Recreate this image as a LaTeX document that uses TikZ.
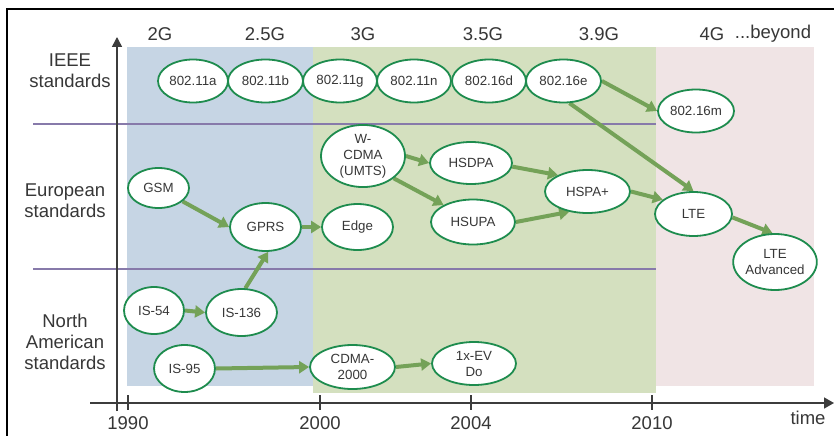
\documentclass[tikz,border=0pt]{standalone}
\usepackage{fontspec}
\setmainfont{Liberation Sans}
\usetikzlibrary{shapes.geometric,arrows.meta}

\definecolor{bandblue}{RGB}{198,213,228}
\definecolor{bandgreen}{RGB}{212,224,191}
\definecolor{bandpink}{RGB}{240,228,229}
\definecolor{ringgreen}{RGB}{30,140,78}
\definecolor{flowgreen}{RGB}{116,162,88}
\definecolor{rowline}{RGB}{135,122,170}
\definecolor{inkgrey}{RGB}{55,55,55}
\definecolor{axisgrey}{RGB}{60,60,60}

\pgfdeclarelayer{bands}
\pgfdeclarelayer{flows}
\pgfsetlayers{bands,flows,main}

\begin{document}
\begin{tikzpicture}[x=1pt,y=-1pt,
  std/.style={ellipse, draw=ringgreen, line width=1.8pt, fill=white,
    inner sep=0pt, text=inkgrey, align=center,
    font=\fontsize{13.3}{16}\selectfont},
  flow/.style={draw=flowgreen, line width=4pt,
    -{Triangle[length=10pt,width=12pt]}},
  biglabel/.style={text=inkgrey, align=center, inner sep=0pt,
    font=\fontsize{18.5}{21}\selectfont},
  axisline/.style={draw=axisgrey, line width=1.5pt},
  tick/.style={draw=axisgrey, line width=1.3pt},
  sep/.style={draw=rowline, line width=1.2pt}
]
\useasboundingbox (0,0) rectangle (834,436);

% generation bands, row separators and axes
\begin{pgfonlayer}{bands}
  \fill[white] (0,0) rectangle (834,436);
  \draw[black, line width=2pt] (834,9) -- (7,9) -- (7,436);
  \fill[bandblue]  (127,47) rectangle (313,386);
  \fill[bandgreen] (313,47) rectangle (656,393);
  \fill[bandpink]  (656,47) rectangle (814,386);
  \draw[sep] (33,124) -- (656,124);
  \draw[sep] (33,269) -- (656,269);
  \coordinate (ybot) at (117,411);
  \coordinate (ytop) at (117,37);
  \coordinate (xleft) at (90,403);
  \coordinate (xright) at (834,403);
  \draw[axisline, -{Triangle[length=10pt,width=10pt]}] (ybot) -- (ytop);
  \draw[axisline, -{Triangle[length=10pt,width=11pt]}] (xleft) -- (xright);
  \foreach \tx in {128,320,471,652} \draw[tick] (\tx,395) -- (\tx,410);
\end{pgfonlayer}

% axis and band labels
\node[biglabel] (y1990) at (128,423) {1990};
\node[biglabel] (y2000) at (320,423) {2000};
\node[biglabel] (y2004) at (471,423) {2004};
\node[biglabel] (y2010) at (652,423) {2010};
\node[biglabel] (tlab) at (808,418) {time};

\node[biglabel] (g2)   at (160,34) {2G};
\node[biglabel] (g25)  at (265,34) {2.5G};
\node[biglabel] (g3)   at (363,34) {3G};
\node[biglabel] (g35)  at (483,34) {3.5G};
\node[biglabel] (g39)  at (599,34) {3.9G};
\node[biglabel] (g4)   at (712,34) {4G};
\node[biglabel] (gbey) at (773,34) {...beyond};

\node[biglabel] (rieee) at (70,71) {IEEE\\standards};
\node[biglabel] (reur)  at (65,201) {European\\standards};
\node[biglabel] (rna)   at (65,342) {North\\American\\standards};

% IEEE standards
\node[std, minimum width=70pt, minimum height=43pt] (a11a) at (193,81) {802.11a};
\node[std, minimum width=75pt, minimum height=43pt] (a11b) at (265.5,81) {802.11b};
\node[std, minimum width=74pt, minimum height=43pt] (a11g) at (340,81) {802.11g};
\node[std, minimum width=74pt, minimum height=43pt] (a11n) at (414,81) {802.11n};
\node[std, minimum width=74pt, minimum height=43pt] (a16d) at (489,81) {802.16d};
\node[std, minimum width=75pt, minimum height=43pt] (a16e) at (563.5,81) {802.16e};
\node[std, minimum width=76pt, minimum height=43pt] (a16m) at (696,111) {802.16m};

% European standards
\node[std, minimum width=61pt, minimum height=40pt] (gsm) at (158.5,188) {GSM};
\node[std, minimum width=71pt, minimum height=48pt] (gprs) at (265.5,227) {GPRS};
\node[std, minimum width=71pt, minimum height=46pt] (edge) at (357.5,227) {Edge};
\node[std, minimum width=84pt, minimum height=54pt] (wcdma) at (363,156) {W-\\CDMA\\(UMTS)};
\node[std, minimum width=82pt, minimum height=42pt] (hsdpa) at (471,163) {HSDPA};
\node[std, minimum width=84pt, minimum height=45pt] (hsupa) at (473,222) {HSUPA};
\node[std, minimum width=85pt, minimum height=43pt] (hspa) at (587.5,191.5) {HSPA+};
\node[std, minimum width=77pt, minimum height=44pt] (lte) at (693.5,214) {LTE};
\node[std, minimum width=80pt, minimum height=56pt] (ltea) at (775,262) {LTE\\Advanced};

% North American standards
\node[std, minimum width=60pt, minimum height=47pt] (is54) at (154,310.5) {IS-54};
\node[std, minimum width=71pt, minimum height=47pt] (is136) at (241.5,312.5) {IS-136};
\node[std, minimum width=61pt, minimum height=47pt] (is95) at (184.5,368.5) {IS-95};
\node[std, minimum width=85pt, minimum height=44pt] (cdma) at (352.5,367) {CDMA-\\2000};
\node[std, minimum width=84pt, minimum height=43pt] (evdo) at (474,363.5) {1x-EV\\Do};

% evolution paths
\begin{pgfonlayer}{flows}
  \draw[flow] (a16e.east) -- (a16m.west);
  \draw[flow] (a16e.-75) -- (lte.north);
  \draw[flow] (wcdma.east) -- (hsdpa.west);
  \draw[flow] (wcdma.-36) -- (hsupa.150);
  \draw[flow] (hsdpa.-5) -- (hspa.151);
  \draw[flow] (hsupa.east) -- (hspa.-132);
  \draw[flow] (hspa.east) -- (lte.155);
  \draw[flow] (lte.-5) -- (ltea.95);
  \draw[flow] (gsm.-29) -- (gprs.west);
  \draw[flow] (gprs.east) -- (edge.west);
  \draw[flow] (is54.east) -- (is136.west);
  \draw[flow] (is136.81) -- (gprs.-84);
  \draw[flow] (is95.east) -- (cdma.west);
  \draw[flow] (cdma.east) -- (evdo.west);
\end{pgfonlayer}
\end{tikzpicture}
\end{document}
